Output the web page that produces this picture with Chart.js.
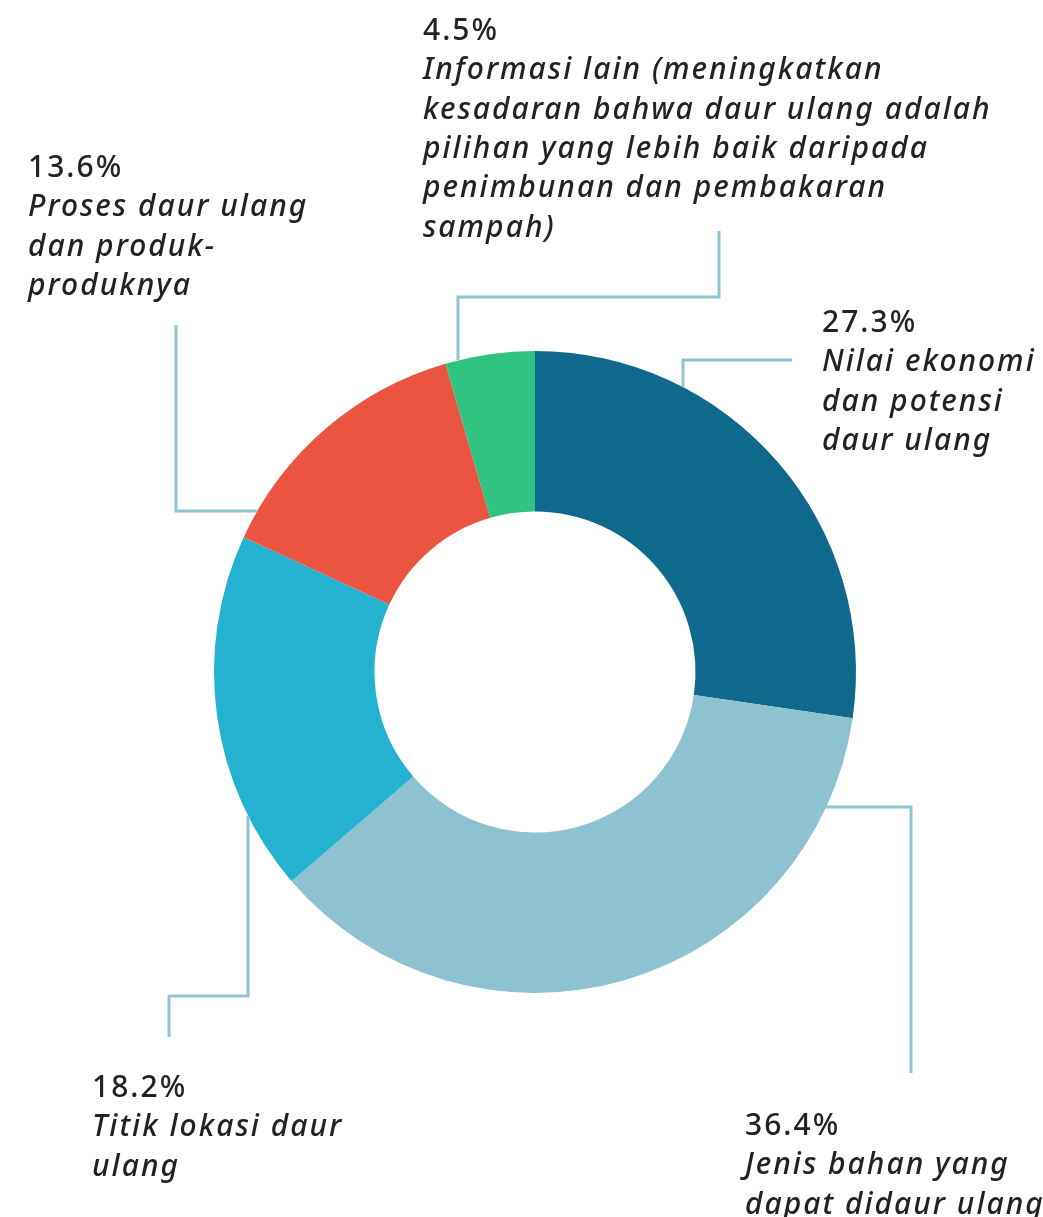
<!DOCTYPE html>
<html>
<head>
<meta charset="utf-8">
<script src="https://cdn.jsdelivr.net/npm/chart.js@4.4.1/dist/chart.umd.min.js"></script>
<style>
  html, body { margin: 0; padding: 0; background: #fff; }
  #chartArea { width: 1043px; height: 1217px; position: relative; }
</style>
</head>
<body>
<div id="chartArea"><canvas id="chart"></canvas></div>
<script>
// data (clockwise from 12 o'clock)
const categories = [
  ['Nilai ekonomi', 'dan potensi', 'daur ulang'],
  ['Jenis bahan yang', 'dapat didaur ulang'],
  ['Titik lokasi daur', 'ulang'],
  ['Proses daur ulang', 'dan produk-', 'produknya'],
  ['Informasi lain (meningkatkan', 'kesadaran bahwa daur ulang adalah', 'pilihan yang lebih baik daripada', 'penimbunan dan pembakaran', 'sampah)'],
];
const shares = [27.3, 36.4, 18.2, 13.6, 4.5];
const sliceColors = ['#0e698d', '#8fc2d1', '#25b1d0', '#ea5441', '#2ec37f'];

// callout placement: text block (left x, first baseline), leader elbows from the free end,
// the last segment runs straight ('v' or 'h') until it meets the ring
const callouts = [
  { text: [822, 332], path: [[792, 360], [683, 360]], last: 'v' },
  { text: [745, 1135], path: [[911, 1073], [911, 807]], last: 'h' },
  { text: [92, 1097], path: [[169, 1037], [169, 996], [248, 996]], last: 'v' },
  { text: [28, 177], path: [[176, 325], [176, 511]], last: 'h' },
  { text: [423, 40], path: [[719, 231], [719, 297], [458, 297]], last: 'v' },
];

const lineColor = '#8ec4d3';
const textColor = '#222222';
const fontFamily = '"Noto Sans", Lato, sans-serif';
const lineHeight = 39.3;

const calloutPlugin = {
  id: 'callouts',
  afterDraw(chart) {
    const ctx = chart.ctx;
    const arcs = chart.getDatasetMeta(0).data;
    const cx = arcs[0].x, cy = arcs[0].y, r = arcs[0].outerRadius;
    ctx.save();
    callouts.forEach((c, i) => {
      // leader line
      const pts = c.path.slice();
      const p = pts[pts.length - 1];
      let end;
      if (c.last === 'v') {
        const d = Math.sqrt(Math.max(r * r - (p[0] - cx) ** 2, 0));
        end = [p[0], p[1] < cy ? cy - d : cy + d];
      } else {
        const d = Math.sqrt(Math.max(r * r - (p[1] - cy) ** 2, 0));
        end = [p[0] < cx ? cx - d : cx + d, p[1]];
      }
      pts.push(end);
      ctx.strokeStyle = lineColor;
      ctx.lineWidth = 3;
      ctx.lineJoin = 'miter';
      ctx.beginPath();
      pts.forEach((q, k) => (k ? ctx.lineTo(q[0], q[1]) : ctx.moveTo(q[0], q[1])));
      ctx.stroke();

      // text
      ctx.fillStyle = textColor;
      ctx.textAlign = 'left';
      ctx.textBaseline = 'alphabetic';
      ctx.letterSpacing = '2px';
      const [tx, ty] = c.text;
      ctx.font = '500 30px ' + fontFamily;
      ctx.fillText(shares[i] + '%', tx, ty);
      ctx.font = 'italic 500 30px ' + fontFamily;
      categories[i].forEach((line, k) => {
        ctx.fillText(line, tx, ty + (k + 1) * lineHeight);
      });
    });
    ctx.restore();
  },
};

const ctx = document.getElementById('chart').getContext('2d');
const chart = new Chart(ctx, {
  type: 'doughnut',
  data: {
    labels: categories,
    datasets: [
      {
        data: shares,
        backgroundColor: sliceColors,
        borderWidth: 0,
        hoverOffset: 0,
      },
    ],
  },
  options: {
    responsive: true,
    maintainAspectRatio: false,
    animation: false,
    cutout: '50%',
    layout: {
      padding: { left: 213, right: 186, top: 351, bottom: 224 },
    },
    plugins: {
      legend: { display: false },
      tooltip: { enabled: false },
    },
  },
  plugins: [calloutPlugin],
});
</script>
</body>
</html>
